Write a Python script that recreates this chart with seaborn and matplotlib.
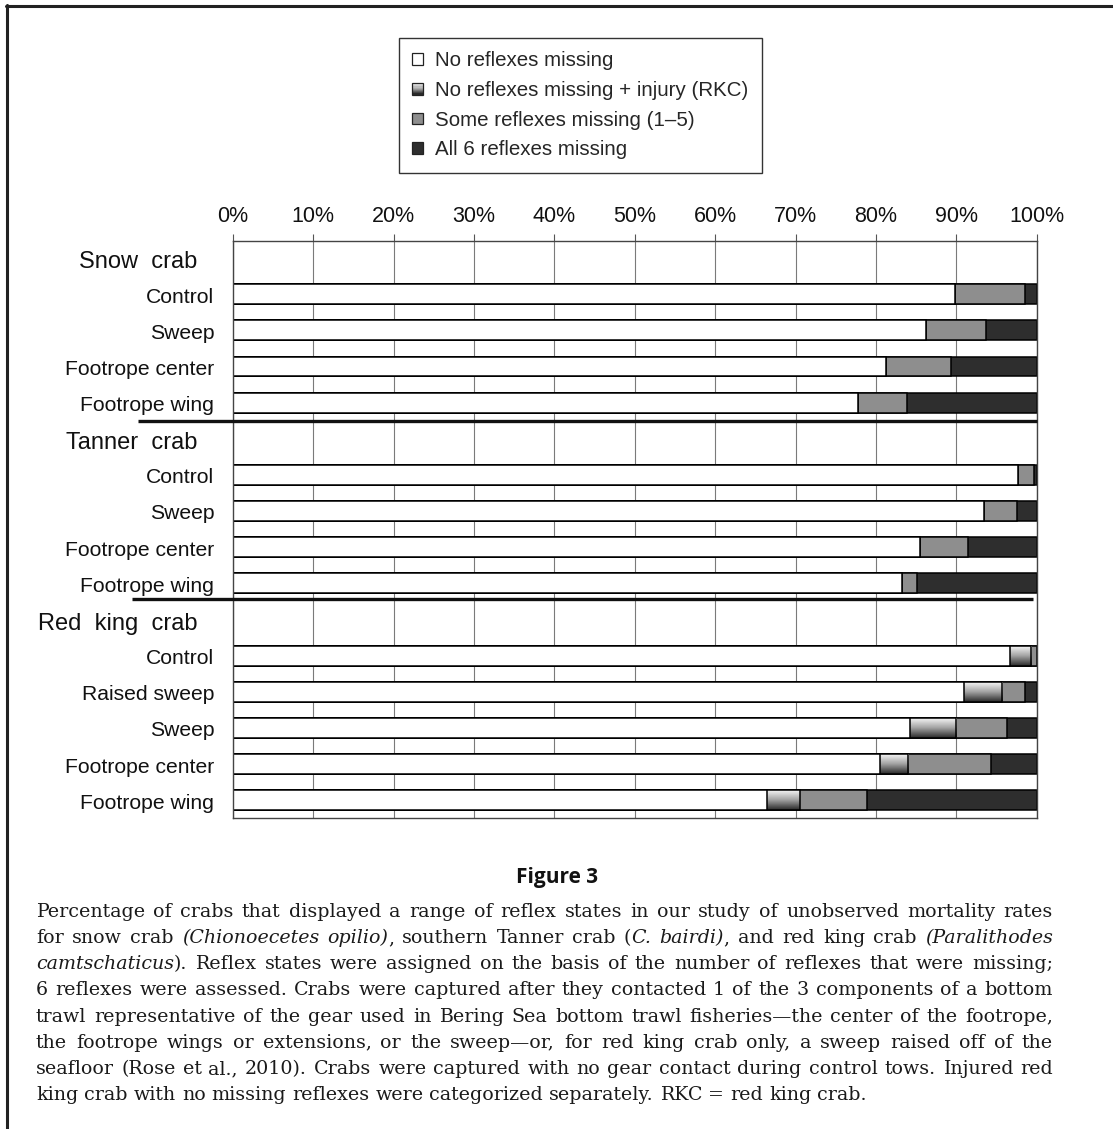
import matplotlib
matplotlib.use("Agg")
import matplotlib.pyplot as plt
import matplotlib.transforms as mtransforms
from matplotlib.colors import LinearSegmentedColormap
from matplotlib.legend_handler import HandlerBase
from matplotlib.patches import Rectangle, Patch
from matplotlib.lines import Line2D
from matplotlib.ticker import PercentFormatter, MultipleLocator
import numpy as np
import seaborn as sns

# ---- data ----
species = ["Snow crab", "Tanner crab", "Red king crab"]
treatments = [
  ["Control", "Sweep", "Footrope center", "Footrope wing"],
  ["Control", "Sweep", "Footrope center", "Footrope wing"],
  ["Control", "Raised sweep", "Sweep", "Footrope center", "Footrope wing"],
]
pct_none = [89.9, 86.2, 81.3, 77.8, 97.7, 93.5, 85.5, 83.2, 96.7, 91.0, 84.2, 80.5, 66.4]
pct_injury = [0, 0, 0, 0, 0, 0, 0, 0, 2.6, 4.7, 5.8, 3.5, 4.1]
pct_some = [8.7, 7.5, 8.1, 6.1, 2.0, 4.0, 6.0, 1.9, 0.7, 2.9, 6.3, 10.3, 8.4]
pct_all = [1.4, 6.3, 10.6, 16.1, 0.3, 2.5, 8.5, 14.9, 0.0, 1.4, 3.7, 5.7, 21.1]
legend_labels = [
  "No reflexes missing",
  "No reflexes missing + injury (RKC)",
  "Some reflexes missing (1\u20135)",
  "All 6 reflexes missing",
]
fig_title = "Figure 3"
caption_lines = [
  "Percentage of crabs that displayed a range of reflex states in our study of unobserved mortality rates",
  "for snow crab *(Chionoecetes opilio)*, southern Tanner crab (*C. bairdi)*, and red king crab *(Paralithodes*",
  "*camtschaticus*). Reflex states were assigned on the basis of the number of reflexes that were missing;",
  "6 reflexes were assessed. Crabs were captured after they contacted 1 of the 3 components of a bottom",
  "trawl representative of the gear used in Bering Sea bottom trawl fisheries\u2014the center of the footrope,",
  "the footrope wings or extensions, or the sweep\u2014or, for red king crab only, a sweep raised off of the",
  "seafloor (Rose et al., 2010). Crabs were captured with no gear contact during control tows. Injured red",
  "king crab with no missing reflexes were categorized separately. RKC = red king crab.",
]

W, H = 1113, 1129
white_c = "#ffffff"
gray_c = "#8e8e8e"
dark_c = "#2e2e2e"
injury_cmap = LinearSegmentedColormap.from_list("inj", ["#f5f5f5", "#a0a0a0", "#2a2a2a"])

sns.set_style("white")
plt.rcParams["font.family"] = ["Liberation Sans", "DejaVu Sans"]

fig = plt.figure(figsize=(W / 100, H / 100), dpi=100)
fig.patch.set_facecolor("white")

# row layout: a header row per species, then its treatments
header_rows = []
bar_rows = []
row = 0
for sp, trs in zip(species, treatments):
  header_rows.append(row)
  for _ in trs:
    row += 1
    bar_rows.append(row)
  row += 1
bar_rows = np.array(bar_rows, dtype=float)
labels_flat = [t for trs in treatments for t in trs]

c1 = np.array(pct_none)
c2 = c1 + np.array(pct_injury)
c3 = c2 + np.array(pct_some)
c4 = c3 + np.array(pct_all)

ax = fig.add_axes([232.7 / W, 1 - 818 / H, (1036.7 - 232.7) / W, (818 - 241) / H])

# stacked look: draw cumulative totals from the right-most segment inwards
layers = [(c4, dark_c, 1.0), (c3, gray_c, 1.1), (c2, "none", 1.2), (c1, white_c, 1.3)]
injury_patches = []
for vals, col, z in layers:
  n_before = len(ax.patches)
  sns.barplot(
    x=vals,
    y=bar_rows,
    orient="y",
    native_scale=True,
    color="white" if col == "none" else col,
    saturation=1,
    width=0.55,
    errorbar=None,
    edgecolor="black",
    linewidth=1.1,
    ax=ax,
  )
  new = ax.patches[n_before:]
  for p in new:
    p.set_zorder(z)
    if col == "none":
      p.set_facecolor("none")
  if col == "none":
    injury_patches = list(new)

# gradient fill for the injury segments
grad = np.linspace(0, 1, 64).reshape(-1, 1)
for p, inj in zip(injury_patches, pct_injury):
  if inj <= 0:
    continue
  x0, y0, w, h = p.get_x(), p.get_y(), p.get_width(), p.get_height()
  im = ax.imshow(grad, cmap=injury_cmap, aspect="auto", interpolation="bicubic",
                 extent=(x0, x0 + w, y0 + h, y0), origin="upper", zorder=1.15)
  im.set_clip_path(p)
ax.set_xlim(0, 100)
ax.set_ylim(15.49, -0.47)

ax.set_xlabel("")
ax.set_ylabel("")
ax.set_yticks([])
ax.xaxis.tick_top()
ax.xaxis.set_major_locator(MultipleLocator(10))
ax.xaxis.set_major_formatter(PercentFormatter(xmax=100, decimals=0))
ax.tick_params(axis="x", top=True, bottom=False, length=5, width=0.8, color="#555",
               labelsize=15.5, pad=5, labelcolor="#111")
ax.grid(axis="x", color="#7a7a7a", linewidth=0.8)
ax.grid(axis="y", visible=False)
ax.set_axisbelow(True)
for s in ax.spines.values():
  s.set_color("#444")
  s.set_linewidth(1.0)
  s.set_visible(True)

# labels on the left
blend = mtransforms.blended_transform_factory(ax.transAxes, ax.transData)
for sp, r in zip(species, header_rows):
  ax.text(-0.044, r + 0.12, sp.replace(" ", "  "), transform=blend, ha="right", va="center",
          fontsize=17, color="#111")
for lab, r in zip(labels_flat, bar_rows):
  ax.text(-0.023, r + 0.08, lab, transform=blend, ha="right", va="center",
          fontsize=15.2, color="#111")

# heavy separators between species groups
for r, x_start, x_end in [(header_rows[1] - 0.5, -0.118, 1.0), (header_rows[2] - 0.58, -0.125, 0.996)]:
  ax.plot([x_start, x_end], [r, r], transform=blend, color="#111", linewidth=2.4,
          clip_on=False, zorder=3, solid_capstyle="butt")


# legend
class GradientHandler(HandlerBase):
  def create_artists(self, legend, orig_handle, xdescent, ydescent, width, height, fontsize, trans):
    n = 10
    arts = []
    for i in range(n):
      y = -ydescent + height * (n - 1 - i) / n
      arts.append(Rectangle((-xdescent, y), width, height / n, facecolor=injury_cmap(i / (n - 1)),
                            edgecolor="none", transform=trans))
    arts.append(Rectangle((-xdescent, -ydescent), width, height, facecolor="none",
                          edgecolor="#222", linewidth=0.9, transform=trans))
    return arts


h_none = Patch(facecolor=white_c, edgecolor="#222", linewidth=0.9)
h_inj = Patch(facecolor="#999", edgecolor="#222", linewidth=0.9)
h_some = Patch(facecolor=gray_c, edgecolor="#222", linewidth=0.9)
h_all = Patch(facecolor=dark_c, edgecolor="#222", linewidth=0.9)
leg = fig.legend(
  [h_none, h_inj, h_some, h_all], legend_labels,
  handler_map={h_inj: GradientHandler()},
  loc="upper left", bbox_to_anchor=(399 / W, 1 - 38 / H), bbox_transform=fig.transFigure,
  fontsize=14.8, frameon=True, fancybox=False, edgecolor="#333", framealpha=1,
  handlelength=0.5, handleheight=0.5, handletextpad=0.6, borderpad=0.65, labelspacing=0.52,
  borderaxespad=0,
)
leg.get_frame().set_linewidth(1.0)

# caption
fig.text(0.5, 1 - 877 / H, fig_title, ha="center", va="center", fontsize=15,
         weight="bold", family=["Open Sans", "DejaVu Sans"], color="#111")

serif = ["DejaVu Serif"]
renderer = fig.canvas.get_renderer()


def parse_line(line):
  words, cur, buf, italic = [], [], "", False
  for ch in line:
    if ch == "*":
      if buf:
        cur.append((buf, italic))
        buf = ""
      italic = not italic
    elif ch == " ":
      if buf:
        cur.append((buf, italic))
        buf = ""
      if cur:
        words.append(cur)
        cur = []
    else:
      buf += ch
  if buf:
    cur.append((buf, italic))
  if cur:
    words.append(cur)
  return words


def seg_width(s, italic, size):
  t = fig.text(0, 0, s, fontsize=size, family=serif, style="italic" if italic else "normal")
  w = t.get_window_extent(renderer).width
  t.remove()
  return w


x_left, x_right = 36, 1053
target = x_right - x_left
parsed = [parse_line(l) for l in caption_lines]
base = 16
space_w = seg_width("a a", False, base) - seg_width("aa", False, base)
naturals = []
for words in parsed[:-1]:
  tot = sum(seg_width(s, it, base) for wd in words for s, it in wd)
  naturals.append(tot + space_w * (len(words) - 1))
fs = base * min(1.0, 0.985 * target / max(naturals))
space_w = seg_width("a a", False, fs) - seg_width("aa", False, fs)

for i, words in enumerate(parsed):
  baseline = 917 + 26.15 * i
  widths = [[seg_width(s, it, fs) for s, it in wd] for wd in words]
  word_tot = sum(sum(w) for w in widths)
  if i < len(parsed) - 1 and len(words) > 1:
    gap = (target - word_tot) / (len(words) - 1)
  else:
    gap = space_w
  x = x_left
  for wd, ws in zip(words, widths):
    for (s, it), w in zip(wd, ws):
      fig.text(x / W, 1 - baseline / H, s, fontsize=fs, family=serif,
               style="italic" if it else "normal", ha="left", va="baseline", color="#1a1a1a")
      x += w
    x += gap

# page frame (top and left rules)
fig.add_artist(Line2D([6.5 / W, 6.5 / W], [0, 1 - 4.5 / H], color="#222", linewidth=2.2,
                      transform=fig.transFigure))
fig.add_artist(Line2D([5.5 / W, 1], [1 - 5.5 / H, 1 - 5.5 / H], color="#222", linewidth=2.2,
                      transform=fig.transFigure))

fig.savefig("out.png", dpi=100)
